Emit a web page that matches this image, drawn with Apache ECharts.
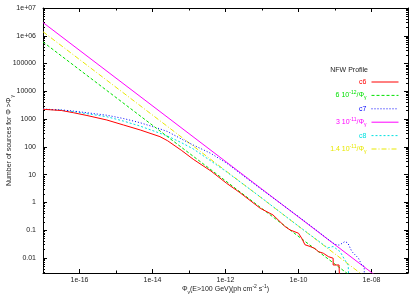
<!DOCTYPE html>
<html><head><meta charset="utf-8">
<script src="https://cdn.jsdelivr.net/npm/echarts@6/dist/echarts.min.js"></script>
<style>html,body{margin:0;padding:0;background:#fff}#c{width:420px;height:294px}</style>
</head><body><div id="c"></div>
<script>
// ---- data (flux in ph cm^-2 s^-1, counts N(>flux)) ----
const c6Flux = [1e-17, 3.2e-17, 6.8e-17, 1.6e-16, 5.6e-16, 1.6e-15, 4.6e-15, 1.6e-14, 2.6e-14, 6.3e-14, 1.3e-13, 4.0e-13, 1.07e-12, 2.5e-12, 8.9e-12, 2.0e-11, 4.3e-11, 5.9e-11, 1.0e-10, 1.23e-10, 1.5e-10, 2.07e-10, 2.8e-10, 3.5e-10, 4.8e-10, 6.6e-10, 7.2e-10, 8.9e-10, 8.9e-10, 1.29e-9, 1.38e-9];
const c6Count = [2260, 2040, 1700, 1350, 930, 615, 407, 234, 166, 74, 36, 13.5, 4.9, 2.24, 0.62, 0.355, 0.135, 0.102, 0.078, 0.051, 0.030, 0.026, 0.022, 0.017, 0.0148, 0.0112, 0.0098, 0.0098, 0.0056, 0.0056, 0.0005];

const c7Flux = [1e-17, 3.2e-17, 6.8e-17, 5.6e-16, 1.6e-15, 4.6e-15, 1.6e-14, 2.6e-14, 6.3e-14, 1.3e-13, 4.0e-13, 1.07e-12, 2.5e-12, 8.9e-12, 3.2e-11, 1.0e-10, 3.2e-10, 6.3e-10, 1.0e-9, 1.3e-9, 1.86e-9, 2.24e-9, 2.9e-9, 4.4e-9, 5.4e-9, 6.3e-9, 6.6e-9];
const c7Count = [2290, 2140, 1950, 1380, 1050, 740, 445, 355, 190, 117, 58, 26, 11.2, 3.2, 0.93, 0.31, 0.097, 0.048, 0.031, 0.029, 0.039, 0.035, 0.017, 0.0098, 0.0056, 0.005, 0.0003];

const c8Flux = [1e-17, 3.2e-17, 6.8e-17, 5.6e-16, 1.6e-15, 4.6e-15, 1.6e-14, 2.6e-14, 6.3e-14, 1.3e-13, 4.0e-13, 1.0e-12, 8.9e-12, 3.2e-11, 1.0e-10, 3.2e-10, 6.3e-10, 8.9e-10, 1.38e-9, 1.86e-9, 2.3e-9, 2.5e-9];
const c8Count = [2280, 2090, 1860, 1220, 850, 560, 310, 245, 140, 85, 31, 13.5, 1.6, 0.44, 0.14, 0.045, 0.023, 0.026, 0.017, 0.0085, 0.0056, 0.0003];

// reference power laws A/flux, endpoints read at the plot edges
const refFlux = [1e-17, 1e-7];
const ref6Count = [6e5, 6e-5];
const ref3Count = [3e6, 3e-4];
const ref14Count = [1.4e6, 1.4e-4];

const seriesNames = ['c6', '6e-12/Phi', 'c7', '3e-11/Phi', 'c8', '1.4e-11/Phi'];
const legendPrefix = ['c6', '6 10', 'c7', '3 10', 'c8', '1.4 10'];
const legendExp = ['', '-12', '', '-11', '', '-11'];

const xTickExp = [-16, -14, -12, -10, -8];
const xTickLabels = ['1e-16', '1e-14', '1e-12', '1e-10', '1e-08'];
const xMinorExp = [-15, -13, -11, -9];
const yTickExp = [7, 6, 5, 4, 3, 2, 1, 0, -1, -2];
const yTickLabels = ['1e+07', '1e+06', '100000', '10000', '1000', '100', '10', '1', '0.1', '0.01'];

const X_MIN = -17, X_MAX = -7;          // log10 of 1e-17 .. 1e-7
const Y_MIN = -2.54, Y_MAX = 7;         // log10 of ~0.0029 .. 1e7

// ---- build ----
const FONT = 'Liberation Sans, Arial, sans-serif';
const colors = ['#ff0000', '#00e000', '#0000ff', '#ff00ff', '#00e0e0', '#e8e800'];
const dashes = ['solid', [3, 2], [1, 2], 'solid', [2, 2], [5, 2, 1, 2]];

const lg = Math.log10;
const toPts = (f, n) => f.map((v, i) => [lg(v), lg(n[i])]);
const datasets = [
  toPts(c6Flux, c6Count), toPts(refFlux, ref6Count),
  toPts(c7Flux, c7Count), toPts(refFlux, ref3Count),
  toPts(c8Flux, c8Count), toPts(refFlux, ref14Count)
];

const yMinor = [];
for (let d = -3; d < 7; d++) for (let k = 2; k <= 9; k++) {
  const v = d + lg(k);
  if (v > Y_MIN && v < Y_MAX) yMinor.push(v);
}

function labelFor(ticks, labels) {
  return v => { const i = ticks.findIndex(t => Math.abs(t - v) < 1e-6); return i >= 0 ? labels[i] : ''; };
}

function xAx(pos, ticks, len, main) {
  return {
    type: 'value', position: pos, min: X_MIN, max: X_MAX,
    axisLine: { show: main, onZero: false, lineStyle: { color: '#000', width: 1 } },
    splitLine: { show: false },
    axisTick: { show: true, inside: true, length: len, customValues: ticks, lineStyle: { color: '#000', width: 1 } },
    axisLabel: (main && pos === 'bottom') ? {
      show: true, customValues: ticks, margin: 4, fontSize: 7, fontFamily: FONT, color: '#222',
      formatter: labelFor(xTickExp, xTickLabels)
    } : { show: false }
  };
}
function yAx(pos, ticks, len, main) {
  return {
    type: 'value', position: pos, min: Y_MIN, max: Y_MAX,
    axisLine: { show: main, onZero: false, lineStyle: { color: '#000', width: 1 } },
    splitLine: { show: false },
    axisTick: { show: true, inside: true, length: len, customValues: ticks, lineStyle: { color: '#000', width: 1 } },
    axisLabel: (main && pos === 'left') ? {
      show: true, customValues: ticks, margin: 7, fontSize: 7, fontFamily: FONT, color: '#222',
      formatter: labelFor(yTickExp, yTickLabels)
    } : { show: false }
  };
}

const xAxes = [xAx('bottom', xTickExp, 4, true), xAx('bottom', xMinorExp, 2.5, false), xAx('top', xTickExp, 4, true), xAx('top', xMinorExp, 2.5, false)];
Object.assign(xAxes[0], {
  name: '{n|Φ}{b|γ}{n|(E>100 GeV)(ph cm}{p|-2}{n| s}{p|-1}{n|)}',
  nameLocation: 'middle', nameGap: 11, nameMoveOverlap: false,
  nameTextStyle: {
    fontSize: 7, fontFamily: FONT, color: '#222', lineHeight: 11,
    rich: {
      n: { fontSize: 7, fontFamily: FONT, color: '#222', lineHeight: 11 },
      p: { fontSize: 5, fontFamily: FONT, color: '#222', lineHeight: 6, verticalAlign: 'top' },
      b: { fontSize: 5, fontFamily: FONT, color: '#222', lineHeight: 6, verticalAlign: 'bottom' }
    }
  }
});
const yAxes = [yAx('left', yTickExp, 4, true), yAx('left', yMinor, 2, false), yAx('right', yTickExp, 4, true), yAx('right', yMinor, 2, false)];
Object.assign(yAxes[0], {
  name: '{n|Number of sources for Φ >Φ}{b|γ}',
  nameLocation: 'middle', nameGap: 28, nameMoveOverlap: false,
  nameTextStyle: {
    fontSize: 7, fontFamily: FONT, color: '#222', lineHeight: 11,
    rich: {
      n: { fontSize: 7, fontFamily: FONT, color: '#222', lineHeight: 11 },
      b: { fontSize: 5, fontFamily: FONT, color: '#222', lineHeight: 6, verticalAlign: 'bottom' }
    }
  }
});

const rich = {};
colors.forEach((c, i) => {
  rich['n' + i] = { fontSize: 7, fontFamily: FONT, color: c, lineHeight: 10, align: 'right' };
  rich['p' + i] = { fontSize: 5, fontFamily: FONT, color: c, lineHeight: 5, verticalAlign: 'top', align: 'right' };
  rich['b' + i] = { fontSize: 5, fontFamily: FONT, color: c, lineHeight: 5, verticalAlign: 'bottom', align: 'right' };
});
function legendText(name) {
  const i = seriesNames.indexOf(name);
  if (!legendExp[i]) return '{n' + i + '|' + legendPrefix[i] + '}';
  return '{n' + i + '|' + legendPrefix[i] + '}{p' + i + '|' + legendExp[i] + '}{n' + i + '|/Φ}{b' + i + '|γ}';
}

const option = {
  animation: false,
  backgroundColor: '#fff',
  grid: { left: 43, top: 8, width: 365, height: 265, containLabel: false, outerBoundsMode: 'none', show: false },
  title: { text: 'NFW Profile', right: 52, top: 67, padding: 0,
    textStyle: { fontSize: 7, fontWeight: 'normal', color: '#222', fontFamily: FONT } },
  legend: {
    orient: 'vertical', right: 21, top: 77, align: 'right', padding: 0,
    itemWidth: 27, itemHeight: 8, itemGap: 3.4,
    data: seriesNames,
    formatter: legendText,
    itemStyle: { opacity: 0, borderWidth: 0 },
    lineStyle: { width: 1 },
    textStyle: { fontSize: 7, fontFamily: FONT, width: 64, lineHeight: 10, rich: rich },
    selectedMode: false
  },
  xAxis: xAxes,
  yAxis: yAxes,
  series: seriesNames.map((n, i) => ({
    name: n, type: 'line', xAxisIndex: 0, yAxisIndex: 0,
    data: datasets[i], symbol: 'none', clip: true,
    lineStyle: { color: colors[i], width: 1, type: dashes[i] },
    itemStyle: { color: colors[i] },
    z: 2 + (5 - i)
  }))
};
const chart = echarts.init(document.getElementById('c'), null, { renderer: 'canvas' });
chart.setOption(option);
</script></body></html>
